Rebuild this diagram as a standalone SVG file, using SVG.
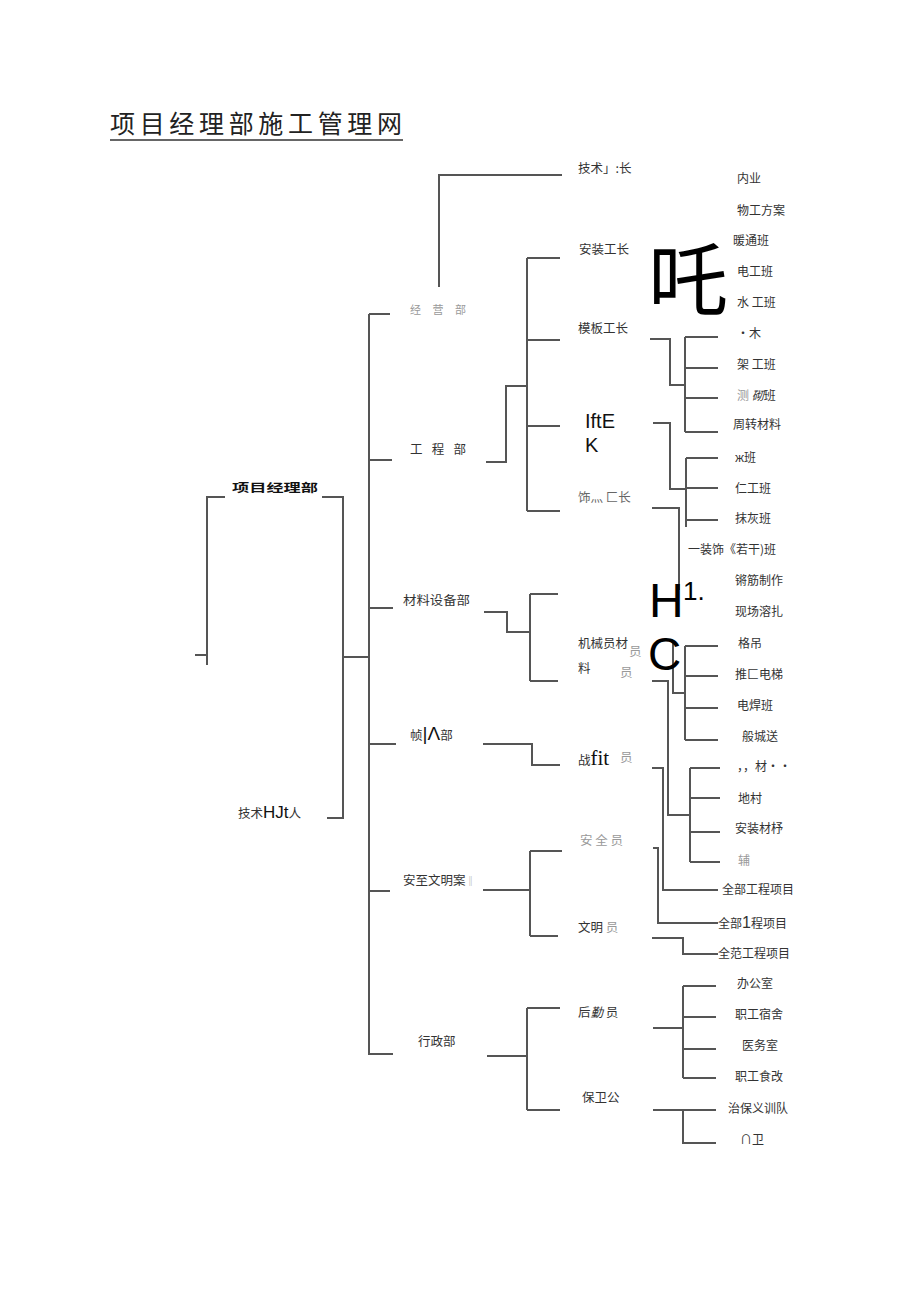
<svg xmlns="http://www.w3.org/2000/svg" width="920" height="1301" viewBox="0 0 920 1301">
<style>
.c{fill:none;stroke:#555;stroke-width:2}
text{font-family:"Noto Sans CJK SC","Liberation Serif",serif;fill:#333}
.s{font-size:12px}
.m{font-size:12.5px}
.g{fill:#999}
.k{fill:#000}
.d{fill:#111}
.lat{font-family:"Liberation Sans",sans-serif}
.ser{font-family:"Liberation Serif",serif}
</style>
<rect width="920" height="1301" fill="#fff"/>
<g id="title">
<text x="110" y="133" font-size="25" textLength="292" lengthAdjust="spacing" style="fill:#222">项目经理部施工管理网</text>
<line x1="110" y1="140" x2="403" y2="140" stroke="#333" stroke-width="1.6"/>
</g>
<g id="connectors">
<path class="c" d="M225 497H207V665M195 655H207"/>
<path class="c" d="M322 497H343V818H327M343 657H369"/>
<path class="c" d="M369 314V1055M369 314H390M369 460H392M369 608H393M369 744H396M369 891H390M369 1054H393"/>
<path class="c" d="M439 287V175H562"/>
<path class="c" d="M486 462H506V386H527M527 258V511M527 258H560M527 340H560M527 426H560M527 511H560"/>
<path class="c" d="M650 339H670V385H685M685 337V432M685 337H718M685 368H718M685 398H718M685 432H718"/>
<path class="c" d="M653 423H670V489H686M686 458V527M686 458H718M686 488H718M686 520H718"/>
<path class="c" d="M652 508H679V590"/>
<path class="c" d="M484 612H507V632H530M530 594V681M530 594H558M530 681H558"/>
<path class="c" d="M673 640V693H685M685 646V740M685 646H718M685 676H718M685 708H718M685 740H718"/>
<path class="c" d="M652 681H668V815H690M690 768V862M690 768H720M690 798H720M690 832H720M690 862H720"/>
<path class="c" d="M483 744H532V765H560"/>
<path class="c" d="M652 768H663V890H718"/>
<path class="c" d="M483 890H530M530 851V936M530 851H562M530 936H558"/>
<path class="c" d="M653 848H658V923H718"/>
<path class="c" d="M652 938H683V954H718"/>
<path class="c" d="M487 1056H527M527 1008V1110M527 1008H560M527 1110H560"/>
<path class="c" d="M653 1028H683M683 986V1078M683 986H716M683 1017H716M683 1049H716M683 1078H716"/>
<path class="c" d="M653 1110H716M683 1110V1143H716"/>
</g>
<g id="n-root"><text x="232" y="492" font-size="11" font-weight="bold" textLength="86" lengthAdjust="spacingAndGlyphs" class="d">项目经理部</text></g>
<g id="n-tech"><text x="238" y="818" class="m">技术<tspan class="lat d" font-size="17">HJt</tspan>人</text></g>
<g id="n-jy"><text x="410" y="314" font-size="11" class="g" textLength="56" lengthAdjust="spacing">经 营 部</text></g>
<g id="n-gc"><text x="410" y="454" class="m" textLength="56" lengthAdjust="spacing">工 程 部</text></g>
<g id="n-cl"><text x="403" y="605" class="m" textLength="67" lengthAdjust="spacingAndGlyphs">材料设备部</text></g>
<g id="n-zl"><text x="410" y="740" class="m">帧<tspan class="lat d" font-size="19">|Λ</tspan>部</text></g>
<g id="n-aq"><text x="403" y="885" class="m">安至文明案<tspan class="g" font-size="10">‖</tspan></text></g>
<g id="n-xz"><text x="418" y="1046" class="m">行政部</text></g>
<g id="n-mid">
<text x="578" y="173" class="m">技术」:长</text>
<text x="579" y="254" class="m">安装工长</text>
<text x="578" y="333" class="m">模板工长</text>
<text x="585" y="428" class="lat d" font-size="20">IftE</text>
<text x="585" y="452" class="lat d" font-size="20">K</text>
<text x="578" y="502" class="m" style="fill:#666">饰灬 匚长</text>
<text x="578" y="648" class="m">机械员材</text>
<text x="629" y="656" class="m g">员</text>
<text x="578" y="673" class="m">料</text>
<text x="620" y="677" class="m g">员</text>
<text x="578" y="765" class="m">战<tspan class="ser d" font-size="21">fit</tspan></text>
<text x="620" y="762" class="m g">员</text>
<text x="580" y="845" class="m g">安 全 员</text>
<text x="578" y="932" class="m">文明 <tspan class="g">  员</tspan></text>
<text x="578" y="1017" class="m">后<tspan font-style="italic">勤</tspan>    员</text>
<text x="582" y="1102" class="m">保卫公</text>
</g>
<g id="n-big">
<text x="648" y="309" font-size="80" font-weight="400" class="k">吒</text>
<text x="649" y="617" class="lat k" font-size="48">H</text>
<text x="683" y="600" class="lat k" font-size="26">1.</text>
<text x="648" y="670" class="lat k" font-size="46">C</text>
</g>
<g id="n-right">
<text x="737" y="183" class="s">内业</text>
<text x="737" y="215" class="s">物工方案</text>
<text x="733" y="245" class="s">暖通班</text>
<text x="737" y="276" class="s">电工班</text>
<text x="737" y="307" class="s">水  工班</text>
<text x="737" y="338" class="s">·木</text>
<text x="737" y="369" class="s">架  工班</text>
<text x="737" y="400" class="s"><tspan class="g">测</tspan>  <tspan font-style="italic">砌</tspan>班</text>
<text x="733" y="429" class="s">周转材料</text>
<text x="735" y="462" class="s">ж班</text>
<text x="735" y="493" class="s">仁工班</text>
<text x="735" y="523" class="s">抹灰班</text>
<text x="688" y="554" class="s">一装饰《若干)班</text>
<text x="735" y="585" class="s">锵筋制作</text>
<text x="735" y="616" class="s">现场溶扎</text>
<text x="738" y="648" class="s">格吊</text>
<text x="735" y="679" class="s">推匚电梯</text>
<text x="737" y="710" class="s">电焊班</text>
<text x="742" y="741" class="s">般城送</text>
<text x="737" y="771" class="s">，，材••</text>
<text x="738" y="803" class="s">地村</text>
<text x="735" y="833" class="s">安装材杼</text>
<text x="738" y="865" class="s g">辅</text>
<text x="722" y="894" class="s">全部工程项目</text>
<text x="718" y="928" class="s">全部<tspan class="lat" font-size="16">1</tspan>程项目</text>
<text x="718" y="958" class="s">全范工程项目</text>
<text x="737" y="988" class="s">办公室</text>
<text x="735" y="1019" class="s">职工宿舍</text>
<text x="742" y="1050" class="s">医务室</text>
<text x="735" y="1081" class="s">职工食改</text>
<text x="728" y="1113" class="s">治保义训队</text>
<text x="740" y="1144" class="s">∩卫</text>
</g>
</svg>
